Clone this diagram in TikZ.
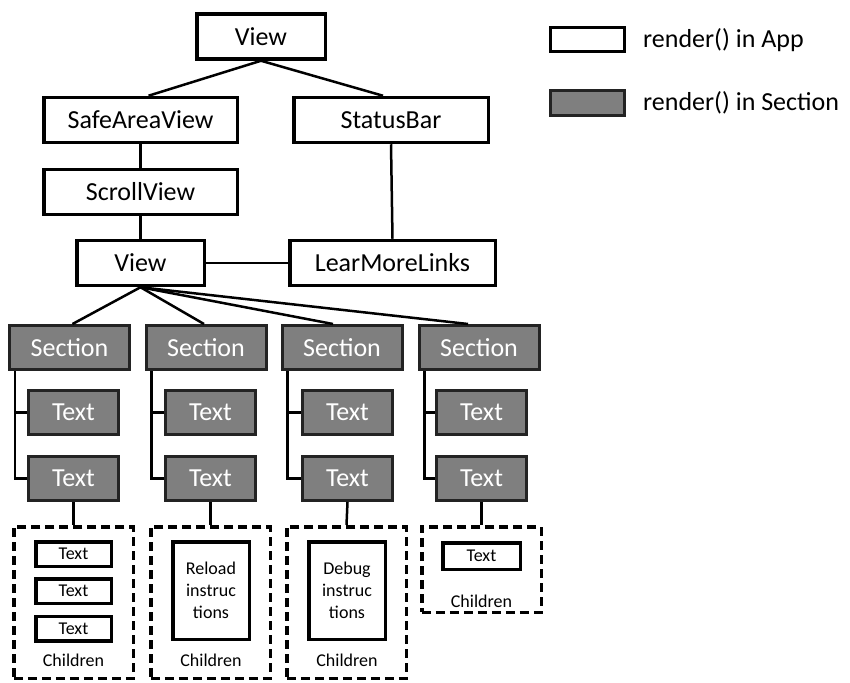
\documentclass[tikz,border=0pt]{standalone}
\usepackage{fontspec}
\setmainfont{Carlito}
\definecolor{boxgray}{RGB}{127,127,127}
\definecolor{edgegray}{RGB}{35,35,35}
\begin{document}
\begin{tikzpicture}[x=1pt,y=-1pt,
  appbox/.style={draw=black,line width=3.5pt,fill=white,inner sep=0pt,minimum height=45pt,font=\fontsize{26}{30}\selectfont},
  secbox/.style={draw=edgegray,line width=3pt,fill=boxgray,text=white,inner sep=0pt,minimum height=44pt,font=\fontsize{26}{30}\selectfont},
  childbox/.style={draw=black,line width=3.5pt,dash pattern=on 9pt off 5pt,inner sep=0pt,minimum width=119.5pt},
  smallbox/.style={draw=black,line width=3.5pt,fill=white,inner sep=0pt,align=center,font=\fontsize{18}{22}\selectfont},
  smalltext/.style={inner sep=0pt,font=\fontsize{18}{22}\selectfont},
  conn/.style={line width=2.5pt,draw=black},
  legtext/.style={anchor=west,inner sep=0pt,font=\fontsize{26}{30}\selectfont}
]
\useasboundingbox (0,0) rectangle (850,682);

% upper tree
\node[appbox,minimum width=128.5pt] (top) at (261,36.5) {View};
\node[appbox,minimum width=193.5pt] (sav) at (140.5,120) {SafeAreaView};
\node[appbox,minimum width=194.5pt] (sb) at (391,120) {StatusBar};
\node[appbox,minimum width=193.5pt] (sv) at (140.5,192) {ScrollView};
\node[appbox,minimum width=127.5pt] (v2) at (140.5,263) {View};
\node[appbox,minimum width=205.5pt] (lml) at (392.5,263) {LearMoreLinks};

\draw[conn] (top.south) -- ([xshift=8pt]sav.north);
\draw[conn] (top.south) -- ([xshift=-8pt]sb.north);
\draw[conn] (sav.south) -- (sv.north);
\draw[conn] (sv.south) -- (v2.north);
\draw[conn] (sb.south) -- (lml.north);
\draw[conn] (v2.east) -- (lml.west);

% sections
\foreach \i/\sx/\tx in {1/69.5/73.5, 2/206/210.5, 3/342/347.5, 4/479/481.5} {
  \node[secbox,minimum width=120pt] (s\i) at (\sx,347.5) {Section};
  \node[secbox,minimum width=90pt] (ta\i) at (\tx,412.5) {Text};
  \node[secbox,minimum width=90pt] (tb\i) at (\tx,478.5) {Text};
  \draw[conn] ([xshift=7pt]s\i.south west) |- (ta\i.west);
  \draw[conn] ([xshift=7pt]s\i.south west) |- (tb\i.west);
}
\draw[conn] (v2.south) -- ([xshift=3pt]s1.north);
\draw[conn] (v2.south) -- ([xshift=-2pt]s2.north);
\draw[conn] (v2.south) -- ([xshift=-9pt]s3.north);
\draw[conn] (v2.south) -- ([xshift=-11pt]s4.north);

% children containers
\node[childbox,minimum height=151.5pt] (c1) at (73.5,602.5) {};
\node[childbox,minimum height=151.5pt] (c2) at (210.5,602.5) {};
\node[childbox,minimum height=151.5pt] (c3) at (346.5,602.5) {};
\node[childbox,minimum height=85.5pt] (c4) at (481.5,569.5) {};
\foreach \i in {1,2,3,4} { \draw[conn] (tb\i.south) -- (c\i.north); }

% children contents
\node[smallbox,minimum width=75.5pt,minimum height=24.5pt] (x1) at (73.5,554) {Text};
\node[smallbox,minimum width=75.5pt,minimum height=24.5pt] (x2) at (73.5,591) {Text};
\node[smallbox,minimum width=75.5pt,minimum height=24.5pt] (x3) at (73.5,628.5) {Text};
\node[smalltext] (l1) at (73.5,660) {Children};

\node[smallbox,minimum width=76.5pt,minimum height=97.5pt] (rl) at (211,590.5) {Reload\\instruc\\tions};
\node[smalltext] (l2) at (211,660) {Children};

\node[smallbox,minimum width=76.5pt,minimum height=97.5pt] (db) at (347,590.5) {Debug\\instruc\\tions};
\node[smalltext] (l3) at (347,660) {Children};

\node[smallbox,minimum width=77.5pt,minimum height=26.5pt] (x4) at (481.5,556) {Text};
\node[smalltext] (l4) at (481.5,601) {Children};

% legend
\node[draw=black,line width=3pt,fill=white,minimum width=74pt,minimum height=24pt,inner sep=0pt] (lg1) at (587.5,40) {};
\node[legtext] (lt1) at (643,40) {render() in App};
\node[draw=edgegray,line width=3pt,fill=boxgray,minimum width=74pt,minimum height=24pt,inner sep=0pt] (lg2) at (587.5,103) {};
\node[legtext] (lt2) at (643,103) {render() in Section};
\end{tikzpicture}
\end{document}
